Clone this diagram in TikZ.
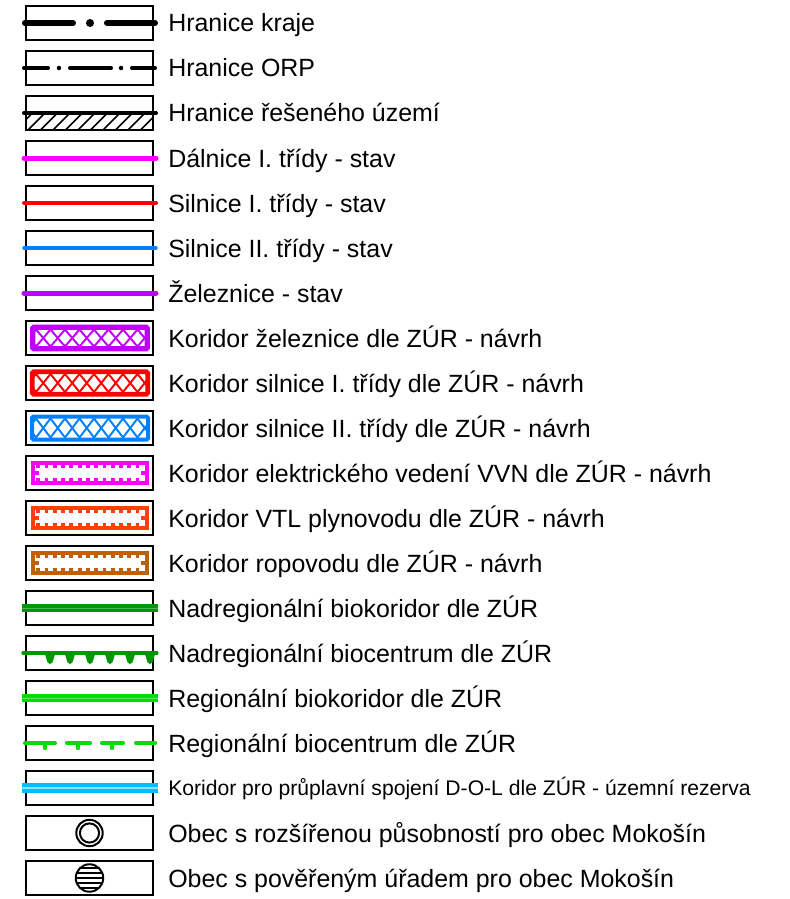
\documentclass[tikz,border=0pt]{standalone}
\usepackage{fontspec}
\setmainfont{Liberation Sans}
\usepackage{tikz}

\definecolor{dalnice}{RGB}{255,0,255}
\definecolor{silniceI}{RGB}{255,0,0}
\definecolor{silniceII}{RGB}{0,128,255}
\definecolor{zeleznice}{RGB}{191,0,255}
\definecolor{vvn}{RGB}{255,0,255}
\definecolor{vtl}{RGB}{255,64,0}
\definecolor{ropovod}{RGB}{192,96,0}
\definecolor{nadreg}{RGB}{0,150,0}
\definecolor{reg}{RGB}{0,220,0}
\definecolor{kanal}{RGB}{0,190,255}

\begin{document}
\begin{tikzpicture}[x=0.75pt, y=-0.75pt]
			\tikzstyle{Box}		= [rectangle, draw, line width=1.5pt, fill=white, minimum width=95.25pt, minimum height=25.5pt, inner sep=0pt]
			\tikzstyle{Label}	= [anchor=base west, inner sep=0pt, font=\fontsize{18.7}{22}\selectfont]
			\tikzstyle{Small}	= [font=\fontsize{15.85}{19}\selectfont]
			\tikzstyle{Road}	= [line cap=round]
			\tikzstyle{Hatch}	= [line width=1.1pt]
			\tikzstyle{Net}		= [line width=1.45pt]
			\tikzstyle{Ring}	= [line width=1.5pt]

			\useasboundingbox [fill=white] (0,0) rectangle (789,899);

			% boxes
			\node (b1) at (89.5, 23) [Box] {};
			\node (b2) at (89.5, 68) [Box] {};
			\node (b3) at (89.5, 113) [Box] {};
			\node (b4) at (89.5, 158) [Box] {};
			\node (b5) at (89.5, 203) [Box] {};
			\node (b6) at (89.5, 248) [Box] {};
			\node (b7) at (89.5, 293) [Box] {};
			\node (b8) at (89.5, 338) [Box] {};
			\node (b9) at (89.5, 383) [Box] {};
			\node (b10) at (89.5, 428) [Box] {};
			\node (b11) at (89.5, 473) [Box] {};
			\node (b12) at (89.5, 518) [Box] {};
			\node (b13) at (89.5, 563) [Box] {};
			\node (b14) at (89.5, 608) [Box] {};
			\node (b15) at (89.5, 653) [Box] {};
			\node (b16) at (89.5, 698) [Box] {};
			\node (b17) at (89.5, 743) [Box] {};
			\node (b18) at (89.5, 788) [Box] {};
			\node (b19) at (89.5, 833) [Box] {};
			\node (b20) at (89.5, 878) [Box] {};

			% labels
			\node (t1) at (168, 32) [Label] {Hranice kraje};
			\node (t2) at (168, 77) [Label] {Hranice ORP};
			\node (t3) at (168, 122) [Label] {Hranice řešeného území};
			\node (t4) at (168, 167) [Label] {Dálnice I. třídy - stav};
			\node (t5) at (168, 212) [Label] {Silnice I. třídy - stav};
			\node (t6) at (168, 257) [Label] {Silnice II. třídy - stav};
			\node (t7) at (168, 302) [Label] {Železnice - stav};
			\node (t8) at (168, 347) [Label] {Koridor železnice dle ZÚR - návrh};
			\node (t9) at (168, 392) [Label] {Koridor silnice I. třídy dle ZÚR - návrh};
			\node (t10) at (168, 437) [Label] {Koridor silnice II. třídy dle ZÚR - návrh};
			\node (t11) at (168, 482) [Label] {Koridor elektrického vedení VVN dle ZÚR - návrh};
			\node (t12) at (168, 527) [Label] {Koridor VTL plynovodu dle ZÚR - návrh};
			\node (t13) at (168, 572) [Label] {Koridor ropovodu dle ZÚR - návrh};
			\node (t14) at (168, 617) [Label] {Nadregionální biokoridor dle ZÚR};
			\node (t15) at (168, 662) [Label] {Nadregionální biocentrum dle ZÚR};
			\node (t16) at (168, 707) [Label] {Regionální biokoridor dle ZÚR};
			\node (t17) at (168, 752) [Label] {Regionální biocentrum dle ZÚR};
			\node (t18) at (168, 795.5) [Label, Small] {Koridor pro průplavní spojení D-O-L dle ZÚR - územní rezerva};
			\node (t19) at (168, 842) [Label] {Obec s rozšířenou působností pro obec Mokošín};
			\node (t20) at (168, 887) [Label] {Obec s pověřeným úřadem pro obec Mokošín};

			% hranice kraje
			\begin{scope}[shift={(0,23)}]
				\draw [Road, line width=4.5pt] (25,0) -- (73,0);
				\fill (90,0) circle [radius=3pt];
				\draw [Road, line width=4.5pt] (107,0) -- (155,0);
			\end{scope}

			% hranice ORP
			\begin{scope}[shift={(0,68)}]
				\draw [Road, line width=2.6pt] (23.75,0) -- (48.25,0);
				\fill (59,0) circle [radius=1.7pt];
				\draw [Road, line width=2.6pt] (69.75,0) -- (111.25,0);
				\fill (121,0) circle [radius=1.7pt];
				\draw [Road, line width=2.6pt] (131.75,0) -- (155.25,0);
			\end{scope}

			% hranice reseneho uzemi
			\begin{scope}[shift={(0,113)}]
				\begin{scope}
					\clip (26,0) rectangle (153,17);
					\foreach \x in {15.5,28,...,165}
						\draw [Hatch] (\x,17) -- (\x+17,0);
				\end{scope}
				\draw [Road, line width=3pt] (24,0) -- (156,0);
			\end{scope}

			% stav
			\draw [Road, dalnice, line width=3.75pt] (24,158) -- (156,158);
			\draw [Road, silniceI, line width=3pt] (24,203) -- (156,203);
			\draw [Road, silniceII, line width=2.6pt] (24,248) -- (156,248);
			\draw [Road, zeleznice, line width=3.75pt] (24,293) -- (156,293);

			% koridory - sit
			\begin{scope}[shift={(0,338)}]
				\begin{scope}
					\clip (32.75,-10.75) rectangle (147.25,10.75);
					\foreach \x in {7,21.5,...,152} {
						\draw [zeleznice, Net] (\x,-8.5) -- (\x+14.5,8.5);
						\draw [zeleznice, Net] (\x,8.5) -- (\x+14.5,-8.5);
					}
				\end{scope}
				\draw [zeleznice, line width=4.1pt, rounded corners=1pt] (32.75,-10.75) rectangle (147.25,10.75);
			\end{scope}
			\begin{scope}[shift={(0,383)}]
				\begin{scope}
					\clip (32.25,-11.25) rectangle (147.75,11.25);
					\foreach \x in {7,21.5,...,152} {
						\draw [silniceI, Net] (\x,-9) -- (\x+14.5,9);
						\draw [silniceI, Net] (\x,9) -- (\x+14.5,-9);
					}
				\end{scope}
				\draw [silniceI, line width=3.4pt, rounded corners=1pt] (32.25,-11.25) rectangle (147.75,11.25);
			\end{scope}
			\begin{scope}[shift={(0,428)}]
				\begin{scope}
					\clip (32,-11.5) rectangle (148,11.5);
					\foreach \x in {7,21.5,...,152} {
						\draw [silniceII, Net] (\x,-9.5) -- (\x+14.5,9.5);
						\draw [silniceII, Net] (\x,9.5) -- (\x+14.5,-9.5);
					}
				\end{scope}
				\draw [silniceII, line width=3pt, rounded corners=1pt] (32,-11.5) rectangle (148,11.5);
			\end{scope}

			% koridory - zuby
			\begin{scope}[shift={(0,473)}]
				\draw [vvn, line width=3.2pt] (33.15,-10.35) rectangle (146.85,10.35);
				\foreach \x in {38.3,46.57,...,138} {
					\fill [vvn] (\x-1.9,-8.5) rectangle (\x+1.9,-4.8);
					\fill [vvn] (\x-1.9,4.8) rectangle (\x+1.9,8.5);
				}
				\fill [vvn] (35,-1.9) rectangle (38.8,1.9);
				\fill [vvn] (141.2,-1.9) rectangle (145,1.9);
			\end{scope}
			\begin{scope}[shift={(0,518)}]
				\draw [vtl, line width=3.2pt] (33.15,-10.35) rectangle (146.85,10.35);
				\foreach \x in {38.3,46.57,...,138} {
					\fill [vtl] (\x-1.9,-8.5) rectangle (\x+1.9,-4.8);
					\fill [vtl] (\x-1.9,4.8) rectangle (\x+1.9,8.5);
				}
				\fill [vtl] (35,-1.9) rectangle (38.8,1.9);
				\fill [vtl] (141.2,-1.9) rectangle (145,1.9);
			\end{scope}
			\begin{scope}[shift={(0,563)}]
				\draw [ropovod, line width=3.2pt] (33.15,-10.35) rectangle (146.85,10.35);
				\foreach \x in {38.3,46.57,...,138} {
					\fill [ropovod] (\x-1.9,-8.5) rectangle (\x+1.9,-4.8);
					\fill [ropovod] (\x-1.9,4.8) rectangle (\x+1.9,8.5);
				}
				\fill [ropovod] (35,-1.9) rectangle (38.8,1.9);
				\fill [ropovod] (141.2,-1.9) rectangle (145,1.9);
			\end{scope}

			% USES
			\draw [nadreg, line width=6.4pt] (22,608) -- (158,608);
			\draw [nadreg!70!white, line width=0.5pt] (22,608) -- (158,608);

			\begin{scope}[shift={(0,653)}]
				\draw [Road, nadreg, line width=2.5pt] (23,0) -- (157,0);
				\foreach \x in {50,70,...,150}
					\fill [nadreg] (\x-6.5,0) .. controls (\x-3,1) and (\x-4.5,11) .. (\x,11)
						.. controls (\x+4.5,11) and (\x+3,1) .. (\x+6.5,0) -- cycle;
			\end{scope}

			\draw [reg, line width=6.2pt] (22,698) -- (158,698);
			\draw [reg!65!white, line width=0.5pt] (22,698) -- (158,698);

			\begin{scope}[shift={(0,743)}]
				\draw [Road, reg, line width=2.6pt] (24.75,0) -- (55.25,0);
				\draw [Road, reg, line width=2.6pt] (66.75,0) -- (90.25,0);
				\draw [Road, reg, line width=2.6pt] (101.75,0) -- (123.25,0);
				\draw [Road, reg, line width=2.6pt] (135.75,0) -- (155.25,0);
				\draw [Road, reg, line width=2.6pt] (45,0) -- (45,5.5);
				\draw [Road, reg, line width=2.6pt] (78,0) -- (78,5.5);
				\draw [Road, reg, line width=2.6pt] (112,0) -- (112,5.5);
			\end{scope}

			% pruplavni spojeni
			\draw [kanal, line width=7pt] (22,788) -- (158,788);
			\draw [kanal!45!white, line width=1.1pt] (22,788) -- (158,788);

			% obce
			\draw [Ring] (89.5,833) circle [radius=9.9pt];
			\draw [Ring] (89.5,833) circle [radius=7.2pt];

			\begin{scope}
				\clip (89.5,878) circle [radius=10.3pt];
				\foreach \d in {-10,-5,0,5,10}
					\draw [Hatch] (74,878+\d) -- (105,878+\d);
			\end{scope}
			\draw [Ring] (89.5,878) circle [radius=10.3pt];
		\end{tikzpicture}
\end{document}
